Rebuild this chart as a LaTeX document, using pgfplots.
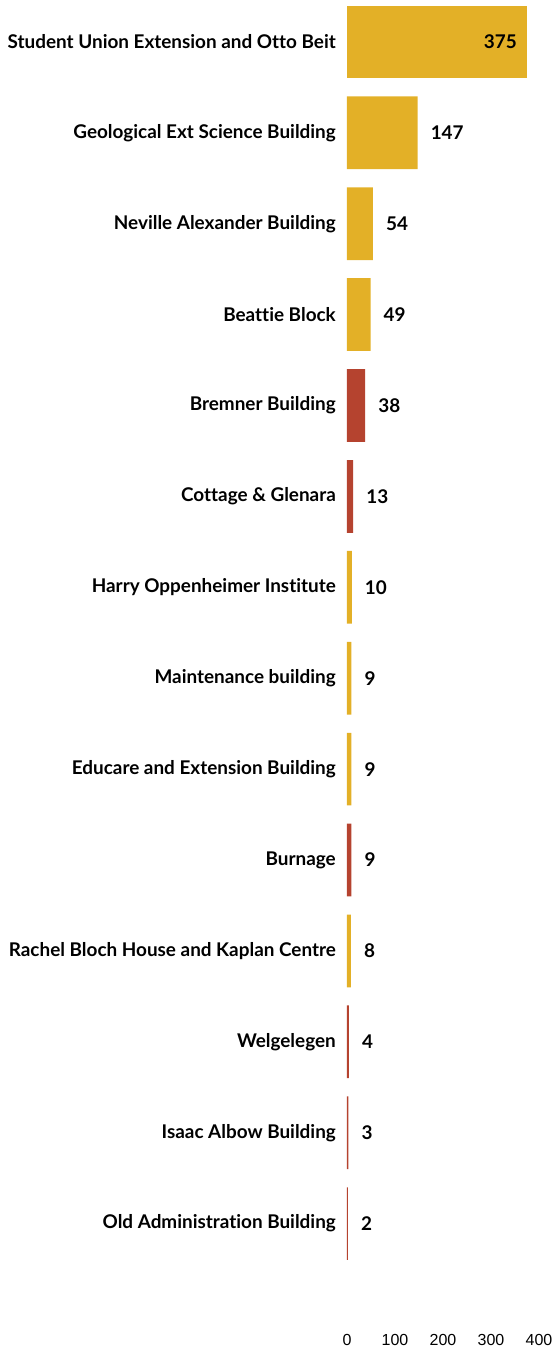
\documentclass[border=0pt]{standalone}
\usepackage{pgfplots}
\pgfplotsset{compat=1.18}
\usepackage{fontspec}
\setmainfont{Lato}[Ligatures=CommonOff]
\newfontfamily\tickfont{Liberation Sans}
\definecolor{gold}{HTML}{E3B027}
\definecolor{brick}{HTML}{B5432F}
\begin{document}
\begin{tikzpicture}
\begin{axis}[
    name=a,
    xbar,
    scale only axis,
    width=192pt, height=1322.6pt,
    xmin=0, xmax=400,
    ymin=-0.45, ymax=14.1,
    y dir=reverse,
    bar width=0.8,
    axis line style={draw=none},
    major tick length=0pt,
    tick style={draw=none},
    xtick={0,100,200,300,400},
    ytick={0,...,13},
    yticklabels={Student Union Extension and Otto Beit,Geological Ext Science Building,Neville Alexander Building,Beattie Block,Bremner Building,Cottage \& Glenara,Harry Oppenheimer Institute,Maintenance building,Educare and Extension Building,Burnage,Rachel Bloch House and Kaplan Centre,Welgelegen,Isaac Albow Building,Old Administration Building},
    yticklabel style={font=\bfseries\fontsize{18.9}{21}\selectfont, inner sep=0pt, xshift=-11pt},
    xticklabel style={font=\tickfont\fontsize{16}{18}\selectfont, inner sep=0pt, yshift=-11pt},
    /pgf/number format/assume math mode=true,
    point meta=x,
    nodes near coords,
    nodes near coords style={font=\bfseries\fontsize{18.9}{21}\selectfont, inner sep=0pt, anchor=west, xshift=13pt, text=black},
]
\addplot[draw=none, fill=gold, bar shift=0pt,
    nodes near coords style={anchor=east, xshift=-23pt}]
    coordinates {(375,0)};
\addplot[draw=none, fill=gold, bar shift=0pt]
    coordinates {(147,1) (54,2) (49,3) (10,6) (9,7) (9,8) (8,10)};
\addplot[draw=none, fill=brick, bar shift=0pt]
    coordinates {(38,4) (13,5) (9,9) (4,11) (3,12) (2,13)};
\end{axis}
\pgfresetboundingbox
\path ([shift={(-347pt,-26.4pt)}]a.south west) rectangle ([shift={(206pt,1323.6pt)}]a.south west);
\end{tikzpicture}
\end{document}
